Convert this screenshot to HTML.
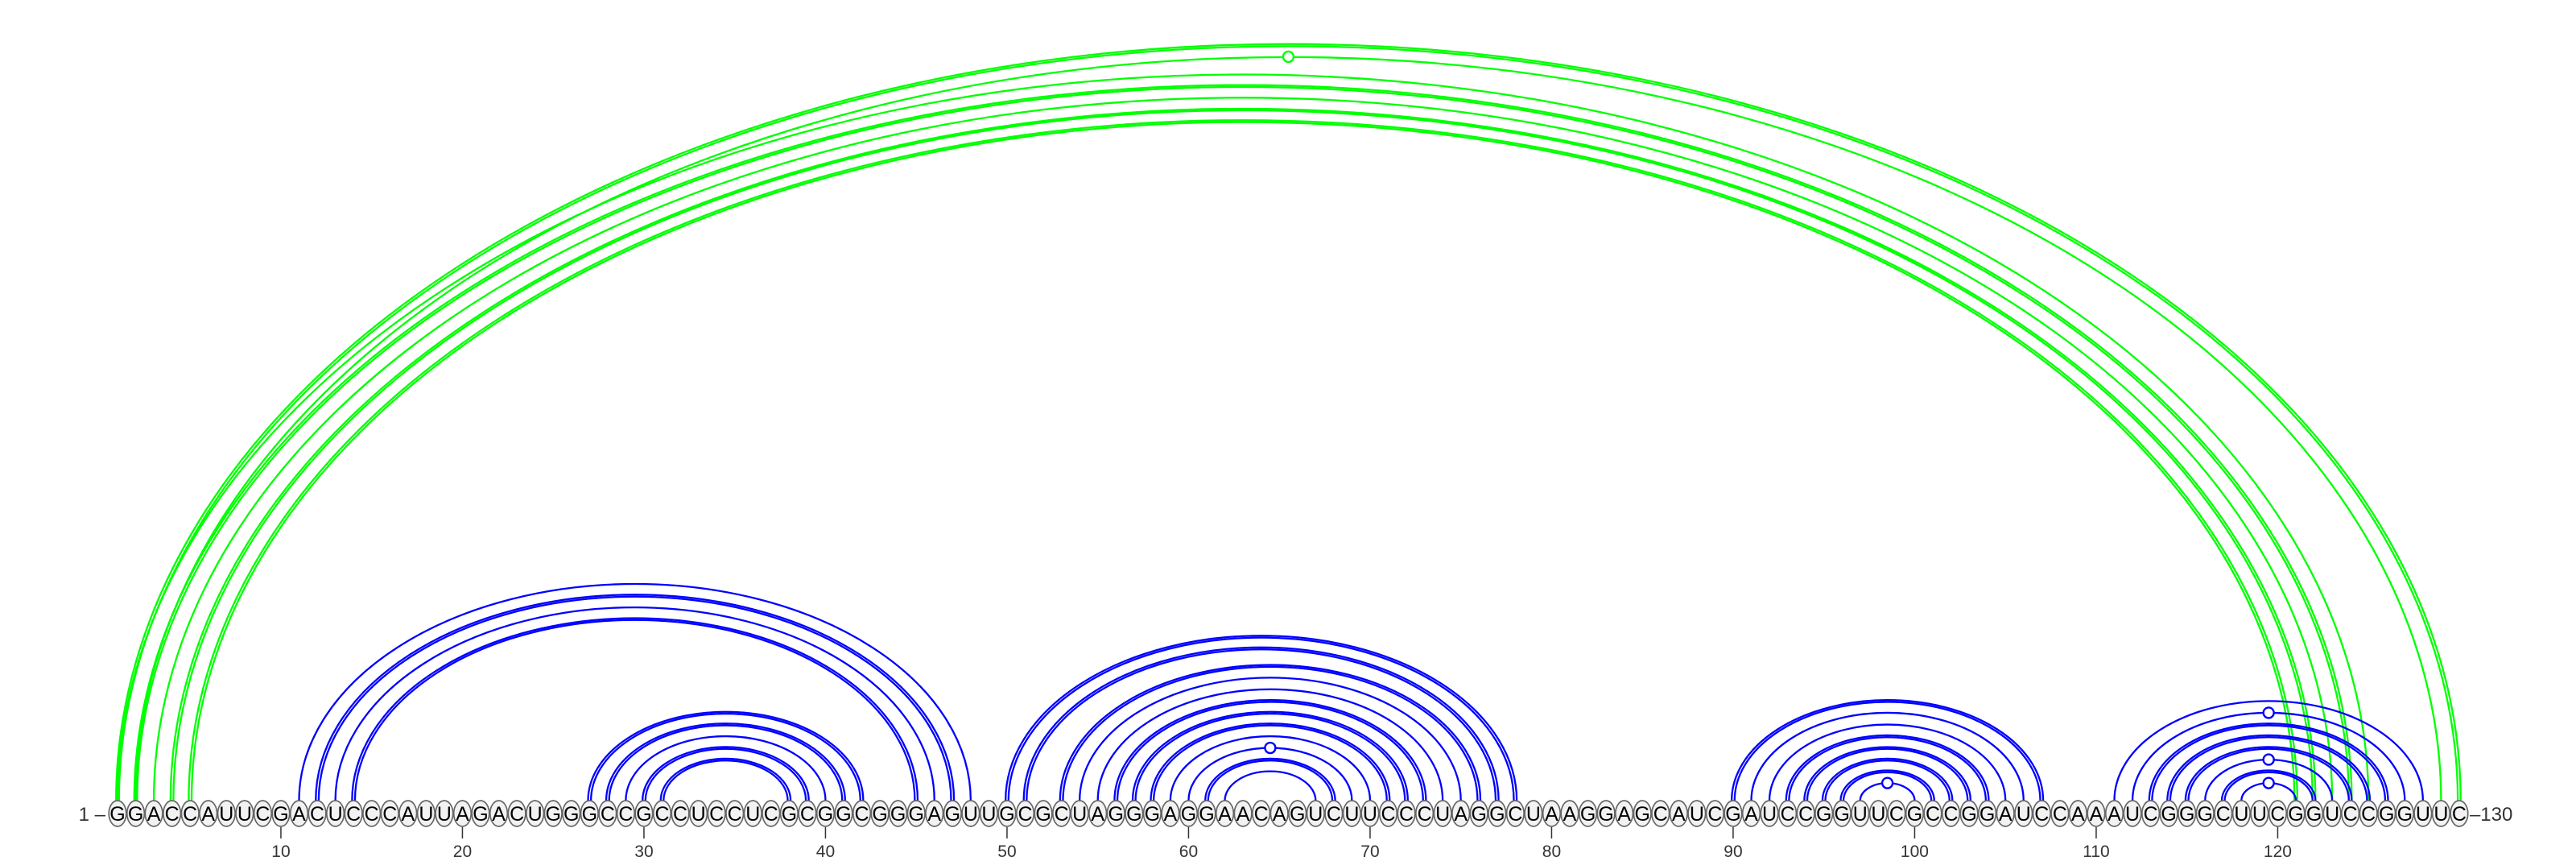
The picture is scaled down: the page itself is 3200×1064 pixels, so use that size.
<!DOCTYPE html>
<html><head><meta charset="utf-8"><title>RNA arc diagram</title>
<style>
html,body{margin:0;padding:0;background:#fff;}
svg{display:block;font-family:"Liberation Sans","DejaVu Sans",sans-serif;}
</style></head>
<body>
<svg id="chart" width="3200" height="1064" viewBox="0 0 3200 1064" xmlns="http://www.w3.org/2000/svg">
<g id="arcs"></g>
<g id="nts"></g>
<g id="axis"></g>
</svg>
<script>
const sequence = "GGACCAUUCGACUCCCAUUAGACUGGGCCGCCUCCUCGCGGCGGGAGUUGCGCUAGGGAGGAACAGUCUUCCCUAGGCUAAGGAGCAUCGAUCCGGUUCGCCGGAUCCAAAUCGGGCUUCGGUCCGGUUC";
const greenPairs = [[1,130,2,0],[2,129,1,1],[1,125,1,0],[2,124,2,0],[3,123,1,0],[4,122,2,0],[5,121,2,0]];
const bluePairs = [
 [11,48,1,0],[12,47,2,0],[13,46,1,0],[14,45,2,0],
 [27,42,2,0],[28,41,2,0],[29,40,1,0],[30,39,2,0],[31,38,2,0],
 [50,78,2,0],[51,77,2,0],[53,76,2,0],[54,75,1,0],[55,74,1,0],[56,73,2,0],[57,72,2,0],[58,71,2,0],[59,70,1,0],[60,69,1,1],[61,68,2,0],[62,67,1,0],
 [90,107,2,0],[91,106,1,0],[92,105,1,0],[93,104,2,0],[94,103,2,0],[95,102,2,0],[96,101,2,0],[97,100,1,1],
 [111,128,1,0],[112,127,1,1],[113,126,2,0],[114,125,2,0],[115,124,2,0],[116,123,1,1],[117,122,2,0],[118,121,1,1]
];
const tickPositions = [10,20,30,40,50,60,70,80,90,100,110,120];

const NS = "http://www.w3.org/2000/svg";
const X0 = 146, DX = 22.55, YB = 1010, YA = 994, K = 0.645;
function xPos(i){ return X0 + (i-1)*DX; }
function mk(tag, attrs, parent){ const e=document.createElementNS(NS,tag); for(const k in attrs) e.setAttribute(k,attrs[k]); parent.appendChild(e); return e; }

const arcsG = document.getElementById('arcs');
function drawPairs(pairs, color, name){
  pairs.forEach(p=>{
    const [i,j,n,circ]=p;
    const cx=(xPos(i)+xPos(j))/2, rx0=(xPos(j)-xPos(i))/2;
    for(let k=0;k<n;k++){
      const rx=rx0+(k-(n-1)/2)*3.6, ry=rx*K;
      const path=mk('path',{d:`M ${cx-rx} ${YA} A ${rx} ${ry} 0 0 1 ${cx+rx} ${YA}`,fill:'none',stroke:color,'stroke-width':2.3},arcsG);
      
      
    }
    if(circ){
      const c=mk('circle',{cx:cx,cy:YA-rx0*K,r:6.5,fill:'#fff',stroke:color,'stroke-width':2.4},arcsG);
      
      
    }
  });
}
drawPairs(greenPairs,'#00ff00','green');
drawPairs(bluePairs,'#0000ff','blue');

const ntG=document.getElementById('nts');
for(let i=1;i<=sequence.length;i++){
  const g=mk('g',{},ntG);
  
  
  mk('ellipse',{cx:xPos(i),cy:YB,rx:10.8,ry:16,fill:'#f2f2f2',stroke:'#666','stroke-width':1.7},g);
  const t=mk('text',{x:xPos(i),y:YB+9,'text-anchor':'middle','font-size':25,fill:'#000'},g);
  t.textContent=sequence[i-1];
}
const axG=document.getElementById('axis');
const l1=mk('text',{x:xPos(1)-15,y:YB+9,'text-anchor':'end','font-size':24,fill:'#333'},axG);
l1.textContent='1 \u2013';


const l2=mk('text',{x:xPos(sequence.length)+13,y:YB+9,'text-anchor':'start','font-size':24,fill:'#333'},axG);
l2.textContent='\u2013130';


tickPositions.forEach(p=>{
  const ln=mk('line',{x1:xPos(p),x2:xPos(p),y1:1027,y2:1041,stroke:'#333','stroke-width':1.5},axG);
  
  
  const t=mk('text',{x:xPos(p),y:1064,'text-anchor':'middle','font-size':21,fill:'#333'},axG);
  t.textContent=p;
  
  
});
</script>
</body></html>
